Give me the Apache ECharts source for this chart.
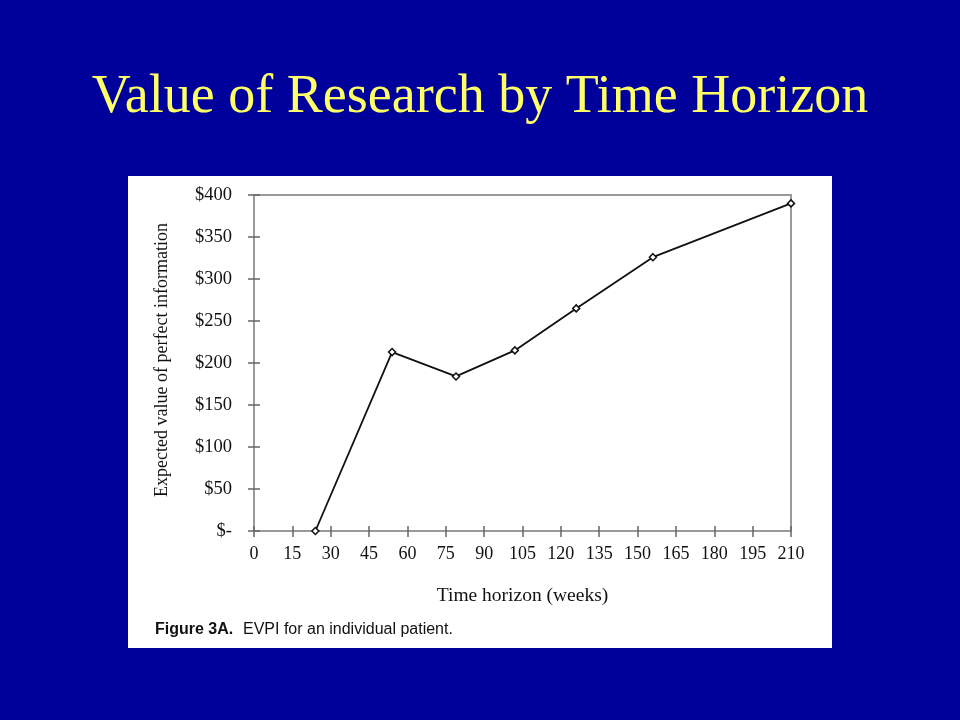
<!DOCTYPE html>
<html>
<head>
<meta charset="utf-8">
<script src="https://cdn.jsdelivr.net/npm/echarts@6/dist/echarts.min.js"></script>
<style>
html,body{margin:0;padding:0;background:#00009A;}
#chart{width:960px;height:720px;}
</style>
</head>
<body>
<div id="chart"></div>
<script>
const titleText = "Value of Research by Time Horizon";
const xName = "Time horizon (weeks)";
const yName = "Expected value of perfect information";
const captionBold = "Figure 3A.";
const captionText = "EVPI for an individual patient.";
const weeks = [24, 54, 79, 102, 126, 156, 210];
const evpi = [0, 213, 184, 215, 265, 326, 390];
const xTicks = [0, 15, 30, 45, 60, 75, 90, 105, 120, 135, 150, 165, 180, 195, 210];
const yTicks = [0, 50, 100, 150, 200, 250, 300, 350, 400];

const chart = echarts.init(document.getElementById('chart'));
const serif = '"Liberation Serif","Times New Roman",serif';
const sans = '"Liberation Sans",Arial,sans-serif';
const axisGray = '#9a9a9a';
const tickGray = '#666';

const commonX = {
  type: 'value', min: xTicks[0], max: xTicks[xTicks.length - 1], interval: 15
};
const commonY = {
  type: 'value', min: yTicks[0], max: yTicks[yTicks.length - 1], interval: 50
};

chart.setOption({
  backgroundColor: '#00009A',
  title: {
    text: titleText,
    left: 'center', top: 66,
    textStyle: { color: '#FFFF66', fontFamily: serif, fontSize: 54, fontWeight: 'normal' }
  },
  graphic: [
    { type: 'rect', z: -10, shape: { x: 128, y: 176, width: 704, height: 472 }, style: { fill: '#ffffff' } },
    { type: 'text', left: 155, top: 622, style: { text: captionBold, font: 'bold 16px ' + sans, fill: '#111' } },
    { type: 'text', left: 243, top: 622, style: { text: captionText, font: '16px ' + sans, fill: '#111' } }
  ],
  grid: {
    left: 254, right: 169, top: 195, bottom: 189,
    show: true, borderColor: axisGray, borderWidth: 2, backgroundColor: 'transparent'
  },
  xAxis: [
    Object.assign({}, commonX, {
      name: xName, nameLocation: 'middle', nameGap: 55,
      nameTextStyle: { fontFamily: serif, fontSize: 19.5, color: '#111' },
      axisLine: { show: true, lineStyle: { color: axisGray, width: 2 } },
      axisTick: { show: true, length: 6, lineStyle: { color: tickGray, width: 1.5 } },
      axisLabel: { fontFamily: serif, fontSize: 18, color: '#111', margin: 14 },
      splitLine: { show: false }
    }),
    Object.assign({}, commonX, {
      position: 'bottom', gridIndex: 0,
      axisLine: { show: false },
      axisTick: { show: true, inside: true, length: 5, lineStyle: { color: tickGray, width: 1.5 } },
      axisLabel: { show: false },
      splitLine: { show: false }
    })
  ],
  yAxis: [
    Object.assign({}, commonY, {
      name: yName, nameLocation: 'middle', nameGap: 83,
      nameTextStyle: { fontFamily: serif, fontSize: 18, color: '#111', padding: [0, 0, 0, 6] },
      axisLine: { show: true, lineStyle: { color: axisGray, width: 2 } },
      axisTick: { show: true, length: 6, lineStyle: { color: tickGray, width: 1.5 } },
      axisLabel: {
        fontFamily: serif, fontSize: 18.5, color: '#111', margin: 22,
        formatter: v => v === 0 ? '$-' : '$' + v
      },
      splitLine: { show: false }
    }),
    Object.assign({}, commonY, {
      position: 'left',
      axisLine: { show: false },
      axisTick: { show: true, inside: true, length: 6, lineStyle: { color: tickGray, width: 1.5 } },
      axisLabel: { show: false },
      splitLine: { show: false }
    })
  ],
  series: [{
    type: 'line',
    xAxisIndex: 0, yAxisIndex: 0,
    data: weeks.map((w, i) => [w, evpi[i]]),
    symbol: 'diamond', symbolSize: 7, showSymbol: true,
    lineStyle: { color: '#111', width: 1.8 },
    itemStyle: { color: '#fff', borderColor: '#111', borderWidth: 1.5 },
    animation: false
  }]
});
</script>
</body>
</html>
